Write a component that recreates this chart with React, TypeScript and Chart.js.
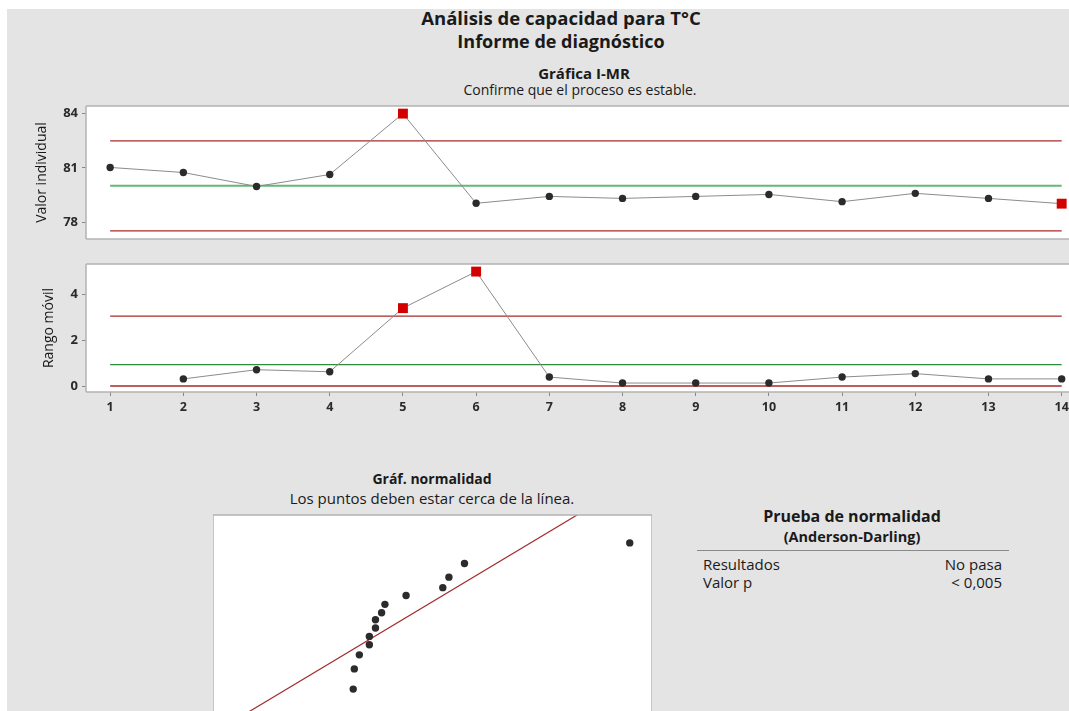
import React, { useEffect, useRef } from 'react';
import { Chart, registerables } from 'chart.js';

Chart.register(...registerables);

const FONT = "'Open Sans', 'Noto Sans', 'DejaVu Sans', sans-serif";

// ---------- data ----------
const observations = ['1', '2', '3', '4', '5', '6', '7', '8', '9', '10', '11', '12', '13', '14'];
const individualValues = [81.03, 80.75, 79.98, 80.64, 84.0, 79.05, 79.43, 79.32, 79.43, 79.54, 79.14, 79.6, 79.32, 79.03];
const movingRanges: (number | null)[] = [null, 0.31, 0.71, 0.62, 3.39, 4.98, 0.39, 0.13, 0.13, 0.13, 0.39, 0.54, 0.31, 0.31];
const iUCL = 82.5;
const iCL = 80.02;
const iLCL = 77.53;
const mrUCL = 3.04;
const mrCL = 0.93;
const mrLCL = 0;
const iOutOfControl = [5, 14];
const mrOutOfControl = [5, 6];
const iTickValues = [78, 81, 84];
const mrTickValues = [0, 2, 4];
const normalSorted = [79.03, 79.05, 79.14, 79.32, 79.32, 79.43, 79.43, 79.54, 79.6, 79.98, 80.64, 80.75, 81.03, 84.0];
const normalScores = [-1.66, -1.2, -0.88, -0.65, -0.46, -0.27, -0.08, 0.08, 0.27, 0.47, 0.65, 0.89, 1.2, 1.67];
const fitMean = 80.02;
const fitSigma = 1.316;
const normTestLabels = ['Resultados', 'Valor p'];
const normTestValues = ['No pasa', '< 0,005'];

// ---------- styling ----------
const RED = '#a52a2a';
const OUT_RED = '#d40000';
const DOT = '#2b2b2b';
const DATA_LINE = '#8c8c8c';
const XMIN = 0.67;
const XMAX = 14.1;

const boxPlugin = {
  id: 'box',
  beforeDraw(chart: any) {
    const { ctx, chartArea: a } = chart;
    ctx.save();
    ctx.fillStyle = '#ffffff';
    ctx.fillRect(a.left, a.top, a.right - a.left, a.bottom - a.top);
    ctx.restore();
  },
  afterDatasetsDraw(chart: any, _args: any, opts: any) {
    const { ctx, chartArea: a } = chart;
    const sides: string[] = opts.sides || ['top', 'left', 'bottom'];
    ctx.save();
    ctx.strokeStyle = '#b3b3b3';
    ctx.lineWidth = 1.5;
    ctx.beginPath();
    if (sides.includes('top')) { ctx.moveTo(a.left, a.top); ctx.lineTo(a.right, a.top); }
    if (sides.includes('bottom')) { ctx.moveTo(a.left, a.bottom); ctx.lineTo(a.right, a.bottom); }
    if (sides.includes('left')) { ctx.moveTo(a.left, a.top); ctx.lineTo(a.left, a.bottom); }
    if (sides.includes('right')) { ctx.moveTo(a.right, a.top); ctx.lineTo(a.right, a.bottom); }
    ctx.stroke();
    ctx.restore();
  },
};

const noPad = (s: any) => {
  s.paddingTop = 0;
  s.paddingBottom = 0;
  s.paddingLeft = 0;
  s.paddingRight = 0;
};

function limitLine(y: number, color: string, width: number) {
  return {
    data: [{ x: 1, y }, { x: 14, y }],
    showLine: true,
    borderColor: color,
    borderWidth: width,
    pointRadius: 0,
  };
}

function yAxis(min: number, max: number, ticks: number[], title: string, titlePad: number) {
  return {
    type: 'linear',
    min,
    max,
    afterBuildTicks: (s: any) => { s.ticks = ticks.map((v) => ({ value: v })); },
    afterFit: (s: any) => { s.width = 86; noPad(s); },
    ticks: { font: { family: FONT, size: 13, weight: 'bold' }, color: '#2a2a2a', padding: 4, callback: (v: any) => String(v) },
    grid: { drawOnChartArea: false, tickLength: 4, color: '#888' },
    border: { display: false },
    title: { display: true, text: title, font: { family: FONT, size: 14 }, color: '#1a1a1a', padding: { top: titlePad, bottom: 0 } },
  };
}

const baseOptions = (padTop: number, padBottom: number, sides: string[]) => ({
  responsive: false,
  animation: false,
  events: [],
  layout: { autoPadding: false, padding: { top: padTop, bottom: padBottom, left: 0, right: 0 } },
  plugins: { legend: { display: false }, tooltip: { enabled: false }, box: { sides } },
});

function iConfig(): any {
  return {
    type: 'scatter',
    data: {
      datasets: [
        {
          data: individualValues.map((v, i) => ({ x: i + 1, y: v })),
          showLine: true,
          borderColor: DATA_LINE,
          borderWidth: 1,
          pointStyle: individualValues.map((_, i) => (iOutOfControl.includes(i + 1) ? 'rect' : 'circle')),
          pointRadius: individualValues.map((_, i) => (iOutOfControl.includes(i + 1) ? 7 : 3.7)),
          pointBackgroundColor: individualValues.map((_, i) => (iOutOfControl.includes(i + 1) ? OUT_RED : DOT)),
          pointBorderWidth: 0,
        },
        limitLine(iUCL, RED, 1.2),
        limitLine(iCL, '#63b874', 2),
        limitLine(iLCL, RED, 1.2),
      ],
    },
    options: {
      ...baseOptions(10, 7, ['top', 'left', 'bottom']),
      scales: {
        x: { type: 'linear', min: XMIN, max: XMAX, display: false },
        y: yAxis(77.08, 84.42, iTickValues, 'Valor individual', 33.5),
      },
    },
    plugins: [boxPlugin],
  };
}

function mrConfig(): any {
  const pts = movingRanges
    .map((v, i) => ({ x: i + 1, y: v }))
    .filter((p) => p.y !== null) as { x: number; y: number }[];
  return {
    type: 'scatter',
    data: {
      datasets: [
        {
          data: pts,
          showLine: true,
          borderColor: DATA_LINE,
          borderWidth: 1,
          pointStyle: pts.map((p) => (mrOutOfControl.includes(p.x) ? 'rect' : 'circle')),
          pointRadius: pts.map((p) => (mrOutOfControl.includes(p.x) ? 7 : 3.7)),
          pointBackgroundColor: pts.map((p) => (mrOutOfControl.includes(p.x) ? OUT_RED : DOT)),
          pointBorderWidth: 0,
        },
        limitLine(mrUCL, RED, 1.2),
        limitLine(mrCL, '#2e8b3e', 1.2),
        limitLine(mrLCL, RED, 1.5),
      ],
    },
    options: {
      ...baseOptions(10, 0, ['top', 'left', 'bottom']),
      scales: {
        x: {
          type: 'linear',
          min: XMIN,
          max: XMAX,
          afterBuildTicks: (s: any) => { s.ticks = observations.map((_, i) => ({ value: i + 1 })); },
          afterFit: (s: any) => { s.height = 30; noPad(s); },
          ticks: {
            font: { family: FONT, size: 12.5, weight: 'bold' },
            color: '#2a2a2a',
            padding: 4,
            autoSkip: false,
            maxRotation: 0,
            callback: (_v: any, i: number) => observations[i],
          },
          grid: { drawOnChartArea: false, tickLength: 4, color: '#888' },
          border: { display: false },
        },
        y: yAxis(-0.26, 5.31, mrTickValues, 'Rango móvil', 41),
      },
    },
    plugins: [boxPlugin],
  };
}

function normConfig(): any {
  const x0 = 76.5;
  const x1 = 84.4;
  return {
    type: 'scatter',
    data: {
      datasets: [
        {
          data: normalSorted.map((v, i) => ({ x: v, y: normalScores[i] })),
          pointRadius: 3.7,
          pointBackgroundColor: DOT,
          pointBorderWidth: 0,
        },
        {
          data: [{ x: x0, y: (x0 - fitMean) / fitSigma }, { x: x1, y: (x1 - fitMean) / fitSigma }],
          showLine: true,
          borderColor: RED,
          borderWidth: 1.2,
          pointRadius: 0,
        },
      ],
    },
    options: {
      ...baseOptions(10, 0, ['top', 'left', 'right']),
      scales: {
        x: { type: 'linear', min: 76.51, max: 84.4, display: false },
        y: { type: 'linear', min: -2.478, max: 2.305, display: false },
      },
    },
    plugins: [boxPlugin],
  };
}

function ChartCanvas({ make, left, top, width, height }: { make: () => any; left: number; top: number; width: number; height: number }) {
  const ref = useRef<HTMLCanvasElement | null>(null);
  useEffect(() => {
    if (!ref.current) return;
    const chart = new Chart(ref.current, make());
    return () => chart.destroy();
  }, []);
  return (
    <canvas
      ref={ref}
      width={width}
      height={height}
      style={{ position: 'absolute', left, top, width, height, display: 'block' }}
    />
  );
}

function Label({ text, cx, cy, size, bold, align = 'center' }: { text: string; cx: number; cy: number; size: number; bold?: boolean; align?: 'center' | 'left' | 'right' }) {
  const tx = align === 'center' ? '-50%' : align === 'right' ? '-100%' : '0';
  return (
    <div
      style={{
        position: 'absolute',
        left: cx,
        top: cy,
        transform: `translate(${tx}, -50%)`,
        whiteSpace: 'nowrap',
        fontFamily: FONT,
        fontSize: size,
        fontWeight: bold ? 700 : 400,
        lineHeight: 1,
        color: '#1a1a1a',
      }}
    >
      {text}
    </div>
  );
}

export default function App() {
  useEffect(() => {
    document.body.style.margin = '0';
  }, []);
  return (
    <div style={{ position: 'relative', width: 1069, height: 711, overflow: 'hidden', background: '#ffffff' }}>
      <div style={{ position: 'absolute', left: 7, top: 9, right: 0, bottom: 0, background: '#e4e4e4' }} />
      <Label text="Análisis de capacidad para T°C" cx={561} cy={18} size={18.5} bold />
      <Label text="Informe de diagnóstico" cx={561} cy={40.5} size={18} bold />
      <Label text="Gráfica I-MR" cx={584} cy={72.5} size={15} bold />
      <Label text="Confirme que el proceso es estable." cx={580} cy={90} size={14} />
      <ChartCanvas make={iConfig} left={0} top={96} width={1069} height={150} />
      <ChartCanvas make={mrConfig} left={0} top={254} width={1069} height={168} />
      <Label text="Gráf. normalidad" cx={432} cy={479} size={14} bold />
      <Label text="Los puntos deben estar cerca de la línea." cx={432} cy={497.5} size={15} />
      <ChartCanvas make={normConfig} left={213} top={505} width={439} height={220} />
      <Label text="Prueba de normalidad" cx={852} cy={516} size={16} bold />
      <Label text="(Anderson-Darling)" cx={852} cy={537} size={14.5} bold />
      <div style={{ position: 'absolute', left: 697, top: 550, width: 312, height: 1, background: '#8a8a8a' }} />
      {normTestLabels.map((t, i) => (
        <Label key={'l' + i} text={t} cx={703} cy={564 + i * 17.5} size={15} align="left" />
      ))}
      {normTestValues.map((t, i) => (
        <Label key={'v' + i} text={t} cx={1002} cy={564 + i * 17.5} size={15} align="right" />
      ))}
    </div>
  );
}
